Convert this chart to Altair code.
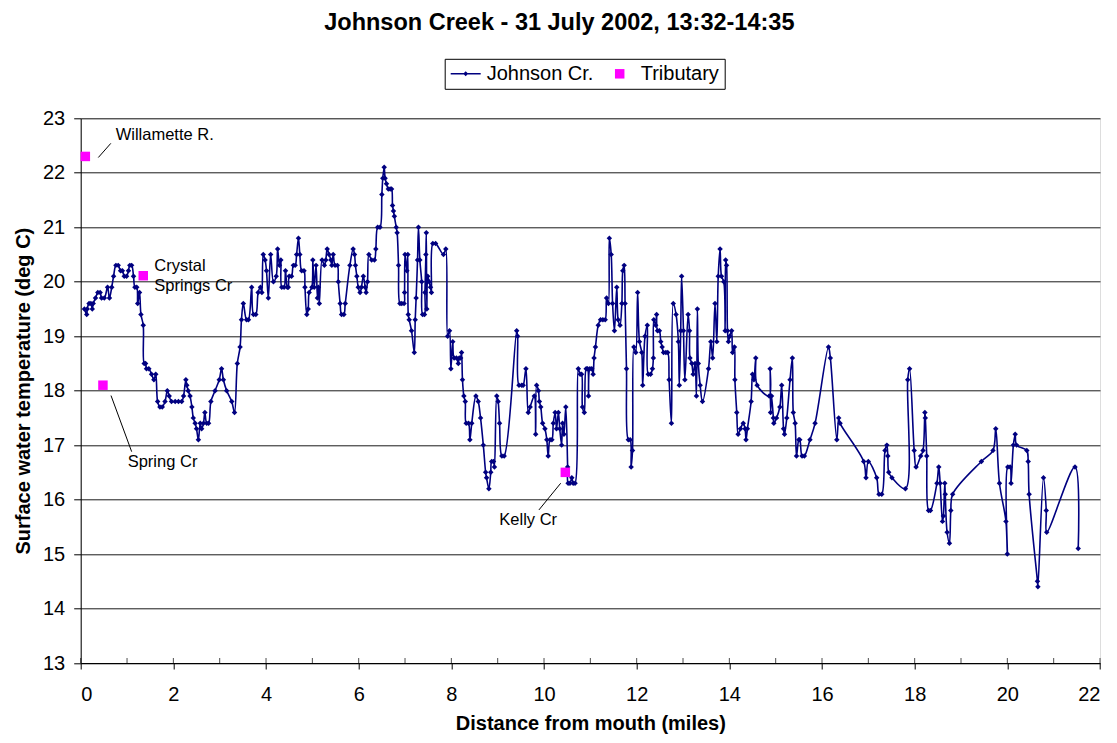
import altair as alt
import pandas as pd

# ---- Johnson Creek longitudinal profile (mile, deg C) ----
seg_mouth = [
    (0.08, 19.5), (0.13, 19.4), (0.14, 19.5), (0.18, 19.6), (0.22, 19.6), (0.25, 19.5), (0.27, 19.6),
    (0.32, 19.7), (0.37, 19.8), (0.42, 19.8), (0.45, 19.7), (0.51, 19.7), (0.58, 19.9), (0.62, 19.7),
    (0.67, 19.9), (0.71, 20.1), (0.76, 20.3), (0.81, 20.3), (0.86, 20.2), (0.90, 20.2), (0.94, 20.1),
    (0.99, 20.1), (1.03, 20.2), (1.06, 20.3), (1.10, 20.3), (1.14, 20.1), (1.17, 19.9), (1.21, 19.9),
    (1.23, 19.6), (1.27, 19.8), (1.30, 19.4), (1.35, 19.2), (1.37, 18.5), (1.40, 18.5), (1.42, 18.4),
    (1.47, 18.4), (1.53, 18.3), (1.58, 18.2), (1.62, 18.3), (1.66, 17.8), (1.71, 17.7), (1.76, 17.7),
    (1.82, 17.8), (1.87, 18.0), (1.91, 17.9), (1.96, 17.8), (2.04, 17.8), (2.11, 17.8), (2.18, 17.8),
    (2.22, 17.9), (2.27, 18.2), (2.29, 18.1), (2.32, 18.0), (2.36, 17.9), (2.40, 17.7), (2.43, 17.5),
    (2.47, 17.4), (2.50, 17.3), (2.54, 17.1), (2.58, 17.4), (2.61, 17.3), (2.65, 17.4), (2.68, 17.6),
    (2.72, 17.4), (2.76, 17.4), (2.81, 17.8), (2.90, 18.0), (2.99, 18.2), (3.04, 18.4), (3.08, 18.2),
    (3.15, 18.0), (3.26, 17.8), (3.32, 17.6), (3.38, 18.5), (3.44, 18.8), (3.47, 19.3), (3.51, 19.6),
    (3.58, 19.3), (3.62, 19.3), (3.69, 19.9), (3.73, 19.4), (3.78, 19.4), (3.83, 19.8), (3.88, 19.9),
    (3.91, 19.8), (3.94, 20.5), (3.98, 20.4), (4.01, 20.2), (4.05, 19.7), (4.10, 20.5), (4.16, 20.0),
]
seg_middle = [
    (4.22, 20.1), (4.25, 20.6), (4.29, 20.3), (4.32, 20.4), (4.34, 19.9), (4.39, 19.9), (4.42, 20.2),
    (4.46, 19.9), (4.48, 19.9), (4.50, 20.1), (4.55, 20.1), (4.59, 20.3), (4.63, 20.3), (4.66, 20.5),
    (4.70, 20.8), (4.73, 20.5), (4.77, 20.2), (4.82, 20.2), (4.84, 19.9), (4.88, 19.4), (4.91, 19.5),
    (4.93, 19.8), (4.99, 19.9), (5.01, 20.4), (5.04, 19.9), (5.08, 20.3), (5.11, 19.7), (5.13, 19.9),
    (5.15, 19.6), (5.21, 20.4), (5.26, 20.3), (5.29, 20.4), (5.32, 20.6), (5.36, 20.5), (5.40, 20.4),
    (5.42, 20.3), (5.45, 20.5), (5.49, 20.3), (5.54, 20.3), (5.56, 20.0), (5.60, 19.6), (5.63, 19.4),
    (5.68, 19.4), (5.71, 19.6), (5.81, 20.3), (5.88, 20.6), (5.91, 20.5), (5.93, 20.3), (5.96, 20.1),
    (5.99, 19.9), (6.03, 19.8), (6.06, 19.9), (6.10, 20.1), (6.14, 19.9), (6.16, 19.8), (6.19, 20.0),
    (6.22, 20.5), (6.28, 20.4), (6.34, 20.4), (6.37, 20.6), (6.41, 21.0), (6.46, 21.0), (6.50, 21.6),
    (6.52, 21.9), (6.55, 22.1), (6.57, 21.9), (6.60, 21.8), (6.64, 21.7), (6.68, 21.7), (6.71, 21.7),
    (6.73, 21.4), (6.75, 21.3), (6.77, 21.2), (6.81, 21.0), (6.83, 20.9), (6.86, 20.3), (6.89, 19.6),
    (6.93, 19.6), (6.98, 19.6), (6.99, 19.8), (7.00, 20.5), (7.04, 20.2), (7.06, 20.5), (7.07, 19.4),
    (7.09, 19.3), (7.14, 19.1), (7.20, 18.7), (7.22, 19.3), (7.24, 19.7), (7.27, 20.4), (7.29, 21.0),
    (7.32, 20.4), (7.36, 20.0), (7.38, 19.4), (7.42, 19.4), (7.43, 19.8), (7.45, 20.5), (7.46, 20.9),
    (7.47, 19.5), (7.49, 20.1), (7.52, 20.0), (7.55, 19.9), (7.57, 19.8), (7.60, 20.7), (7.66, 20.7),
    (7.83, 20.5), (7.88, 20.6), (7.92, 19.0), (7.96, 19.1), (7.99, 18.4), (8.03, 18.9), (8.06, 18.6),
    (8.11, 18.6), (8.15, 18.5),
]
seg_kelly = [
    (8.17, 18.6), (8.20, 18.6), (8.22, 18.7), (8.24, 18.2), (8.27, 17.9), (8.30, 17.8), (8.32, 17.4),
    (8.37, 17.4), (8.40, 17.1), (8.44, 17.4), (8.53, 17.9), (8.58, 17.8), (8.63, 17.5), (8.69, 17.0),
    (8.74, 16.5), (8.76, 16.4), (8.81, 16.2), (8.85, 16.5), (8.87, 16.7), (8.91, 16.7), (8.93, 16.6),
    (8.98, 17.9), (9.01, 17.8), (9.04, 17.4), (9.09, 16.8), (9.14, 16.8), (9.41, 19.1), (9.43, 19.0),
    (9.46, 18.1), (9.52, 18.1), (9.55, 18.1), (9.61, 18.4), (9.66, 17.6), (9.70, 17.7), (9.79, 17.9),
    (9.82, 17.2), (9.84, 18.1), (9.88, 18.0), (9.90, 17.8), (9.93, 17.7), (9.97, 17.4), (10.02, 17.3),
    (10.06, 17.1), (10.09, 16.8), (10.13, 17.1), (10.17, 17.1), (10.20, 17.4), (10.24, 17.6),
    (10.27, 17.3), (10.31, 17.6), (10.34, 17.3), (10.38, 17.0), (10.40, 17.4), (10.43, 17.2),
    (10.47, 17.7), (10.51, 16.6), (10.52, 16.3), (10.56, 16.3), (10.60, 16.4), (10.63, 16.3),
    (10.67, 16.3), (10.74, 18.4), (10.78, 18.3), (10.81, 18.3), (10.83, 17.7), (10.87, 17.6),
    (10.91, 18.4), (10.94, 18.4), (10.96, 17.9), (10.99, 18.4), (11.03, 18.4), (11.06, 18.3),
    (11.08, 18.6), (11.11, 18.8), (11.17, 19.2), (11.22, 19.3), (11.27, 19.3), (11.32, 19.3),
    (11.35, 19.7), (11.39, 19.6), (11.41, 20.8), (11.45, 20.5), (11.48, 19.6), (11.52, 19.1),
    (11.57, 19.9), (11.60, 19.3), (11.64, 19.2), (11.68, 19.6), (11.70, 20.2), (11.73, 20.3),
    (11.75, 19.6), (11.78, 18.4), (11.82, 17.1), (11.86, 17.1), (11.88, 16.6), (11.91, 16.9),
    (11.94, 18.8), (11.98, 18.7), (12.02, 19.8), (12.06, 18.9),
]
seg_upper = [
    (12.11, 18.7), (12.13, 18.1), (12.18, 19.0), (12.23, 19.2), (12.25, 18.3), (12.30, 18.3),
    (12.34, 18.4), (12.36, 18.6), (12.37, 19.3), (12.41, 19.2), (12.43, 19.4), (12.45, 19.1),
    (12.49, 19.1), (12.52, 18.9), (12.55, 18.8), (12.58, 18.7), (12.63, 18.7), (12.67, 18.7),
    (12.70, 18.2), (12.75, 17.4), (12.79, 19.6), (12.85, 19.4), (12.90, 18.9), (12.92, 18.1),
    (12.95, 19.1), (12.97, 20.1), (13.01, 19.1), (13.04, 18.2), (13.11, 19.4), (13.14, 19.1),
    (13.15, 18.6), (13.19, 18.5), (13.22, 18.3), (13.26, 18.5), (13.29, 17.9), (13.31, 19.5),
    (13.33, 18.5), (13.37, 18.1), (13.42, 17.8), (13.55, 18.4), (13.60, 18.9), (13.64, 18.6),
    (13.69, 19.6), (13.73, 18.9), (13.76, 20.1), (13.80, 20.6), (13.83, 20.1), (13.88, 20.0),
    (13.91, 19.1), (13.92, 20.4), (13.94, 20.3), (13.96, 19.1), (13.98, 18.9), (14.01, 19.0),
    (14.05, 19.1), (14.07, 18.7), (14.11, 18.8), (14.12, 18.2), (14.16, 17.6), (14.19, 17.2),
    (14.24, 17.3), (14.30, 17.4), (14.34, 17.3), (14.36, 17.1), (14.39, 17.3), (14.47, 17.8),
    (14.50, 18.3), (14.53, 18.2), (14.57, 18.6), (14.60, 18.1), (14.86, 17.9), (14.88, 18.4),
    (14.89, 17.6), (14.91, 17.9), (14.95, 17.5), (14.96, 17.4), (15.02, 17.5), (15.09, 17.7),
    (15.13, 18.1), (15.17, 17.3), (15.19, 17.2), (15.24, 17.5), (15.31, 18.2), (15.36, 18.6),
    (15.38, 17.6), (15.42, 17.4), (15.45, 16.8), (15.50, 17.1), (15.52, 17.1), (15.57, 16.8),
    (15.62, 16.8), (15.74, 17.1), (15.85, 17.4),
]
seg_headwaters = [
    (16.14, 18.8), (16.18, 18.6), (16.32, 17.1), (16.36, 17.5), (16.39, 17.4), (16.90, 16.7),
    (16.95, 16.4), (17.00, 16.7), (17.18, 16.4), (17.23, 16.1), (17.29, 16.1), (17.36, 16.9),
    (17.40, 17.0), (17.42, 16.8), (17.44, 16.5), (17.51, 16.4), (17.80, 16.2), (17.85, 18.2),
    (17.89, 18.4), (17.99, 16.9), (18.03, 16.6), (18.13, 16.8), (18.18, 16.9), (18.22, 17.6),
    (18.23, 17.5), (18.26, 16.8), (18.30, 15.8), (18.34, 15.8), (18.48, 16.3), (18.52, 16.6),
    (18.55, 16.3), (18.60, 15.6), (18.62, 15.7), (18.65, 16.3), (18.66, 16.1), (18.70, 15.4),
    (18.75, 15.2), (18.78, 15.8), (18.82, 16.1), (19.44, 16.7), (19.69, 16.9), (19.75, 17.3),
    (19.83, 16.3), (19.97, 15.6), (20.00, 15.0), (20.01, 16.6), (20.06, 16.6), (20.08, 16.3),
    (20.13, 17.0), (20.17, 17.2), (20.20, 17.0), (20.42, 16.9), (20.45, 16.7), (20.47, 16.1),
    (20.65, 14.5), (20.66, 14.4), (20.78, 16.4), (20.84, 15.8), (20.85, 15.4), (21.46, 16.6),
    (21.53, 15.1),
]

# ---- Tributaries ----
trib_names = ["Willamette R.", "Spring Cr", "Crystal Springs Cr", "Kelly Cr"]
trib_miles = [0.10, 0.48, 1.35, 10.46]
trib_temps = [22.30, 18.10, 20.11, 16.50]

# ---- Annotation labels and leader lines ----
ann_text = ["Willamette R.", "Crystal", "Springs Cr", "Spring Cr", "Kelly Cr"]
ann_mile = [0.755, 1.59, 1.59, 1.014, 9.035]
ann_temp = [22.69, 20.28, 19.92, 16.69, 15.63]
lead_mile = [0.38, 0.654, 10.36]
lead_temp = [22.28, 17.91, 16.30]
lead_mile2 = [0.65, 1.10, 9.89]
lead_temp2 = [22.54, 16.88, 15.81]

x_values = [0, 2, 4, 6, 8, 10, 12, 14, 16, 18, 20, 22]
minor_ticks = [0, 1, 2, 3, 4, 5, 6, 7, 8, 9, 10, 11, 12, 13, 14, 15, 16, 17, 18, 19, 20, 21, 22]
y_values = [13, 14, 15, 16, 17, 18, 19, 20, 21, 22, 23]

series_names = ["Johnson Cr.", "Tributary"]
series_colors = ["#000080", "#FF00FF"]
legend_shapes = ["M-1.5,-0.075H1.5V0.075H-1.5Z M-0.25,0L0,-0.25L0.25,0L0,0.25Z", "square"]
legend_sizes = [400, 90]

FONT = "Liberation Sans"

johnson = pd.DataFrame(seg_mouth + seg_middle + seg_kelly + seg_upper + seg_headwaters,
                       columns=["mile", "temp"])
trib = pd.DataFrame({"mile": trib_miles, "temp": trib_temps, "name": trib_names})
ann = pd.DataFrame({"mile": ann_mile, "temp": ann_temp, "label": ann_text})
leads = pd.DataFrame({"mile": lead_mile, "temp": lead_temp, "mile2": lead_mile2, "temp2": lead_temp2})
ticks = pd.DataFrame({"mile": minor_ticks, "temp": [13] * len(minor_ticks)})
# legend-only entries: one row per series, placed outside the plotted domain and clipped
legend_rows = pd.DataFrame({"mile": [-10, -10], "temp": [18, 18], "series": series_names})

x_scale = alt.Scale(domain=[0, 22], nice=False, zero=False)
y_scale = alt.Scale(domain=[13, 23], nice=False, zero=False)

x_enc = alt.X("mile:Q", scale=x_scale, axis=alt.Axis(
    values=x_values, title="Distance from mouth (miles)", grid=False,
    tickSize=6, tickColor="black", domainColor="black", labelPadding=15,
    labelFont=FONT, labelFontSize=20, labelColor="black",
    titleFont=FONT, titleFontSize=20, titleFontWeight="bold", titleColor="black",
    titlePadding=9))
y_enc = alt.Y("temp:Q", scale=y_scale, axis=alt.Axis(
    values=y_values, title="Surface water temperature (deg C)", grid=True,
    gridColor="#1a1a1a", gridWidth=1, tickSize=7, tickColor="black", domainColor="black",
    labelPadding=9, labelFont=FONT, labelFontSize=20, labelColor="black",
    titleFont=FONT, titleFontSize=20, titleFontWeight="bold", titleColor="black",
    titlePadding=9))

legend = alt.Legend(
    orient="none", legendX=364, legendY=-59.5, direction="horizontal", title=None,
    labelFont=FONT, labelFontSize=20, labelColor="black", labelOffset=11, labelLimit=0,
    labelExpr="datum.label + (datum.value === 'Tributary' ? '\u00a0\u00a0\u00a0' : '')",
    padding=5, strokeColor="black", fillColor="white", columnPadding=10,
    symbolStrokeWidth=0, symbolOffset=6, symbolOpacity=1,
)
color_scale = alt.Scale(domain=series_names, range=series_colors)

line = alt.Chart(johnson).mark_line(interpolate="catmull-rom", strokeWidth=1.6,
                                    color=series_colors[0]).encode(x=x_enc, y=y_enc)
markers = alt.Chart(johnson).mark_point(shape="diamond", filled=True, size=30, opacity=1,
                                        color=series_colors[0]).encode(x="mile:Q", y="temp:Q")
tribs = alt.Chart(trib).mark_point(shape="square", filled=True, size=90, opacity=1,
                                   color=series_colors[1]).encode(x="mile:Q", y="temp:Q")
legend_layer = alt.Chart(legend_rows).mark_point(filled=True, opacity=1, clip=True).encode(
    x="mile:Q", y="temp:Q",
    color=alt.Color("series:N", scale=color_scale, legend=legend),
    shape=alt.Shape("series:N", scale=alt.Scale(domain=series_names, range=legend_shapes),
                    legend=legend),
    size=alt.Size("series:N", scale=alt.Scale(domain=series_names, range=legend_sizes),
                  legend=legend),
)
leader = alt.Chart(leads).mark_rule(color="black", strokeWidth=1).encode(
    x="mile:Q", y="temp:Q", x2="mile2:Q", y2="temp2:Q")
labels = alt.Chart(ann).mark_text(align="left", baseline="middle", font=FONT, fontSize=16.5,
                                  color="black").encode(x="mile:Q", y="temp:Q", text="label:N")
minor = alt.Chart(ticks).mark_tick(orient="vertical", size=5, thickness=1, color="black",
                                   yOffset=-2.5).encode(x="mile:Q", y="temp:Q")

chart = alt.layer(minor, line, markers, tribs, leader, labels, legend_layer).properties(
    width=1019.3, height=544.7,
    padding={"left": 72.7, "top": 110.3, "right": 9, "bottom": 72},
    autosize=alt.AutoSizeParams(type="none"),
    title=alt.TitleParams(
        "Johnson Creek - 31 July 2002, 13:32-14:35", font=FONT, fontSize=23.5,
        fontWeight="bold", color="black", anchor="middle", frame="group",
        baseline="alphabetic", offset=5, dx=-31),
).configure_view(stroke="#808080", strokeWidth=1).configure(background="white")

chart.save("out.html", embed_options={"renderer": "svg", "actions": False})
